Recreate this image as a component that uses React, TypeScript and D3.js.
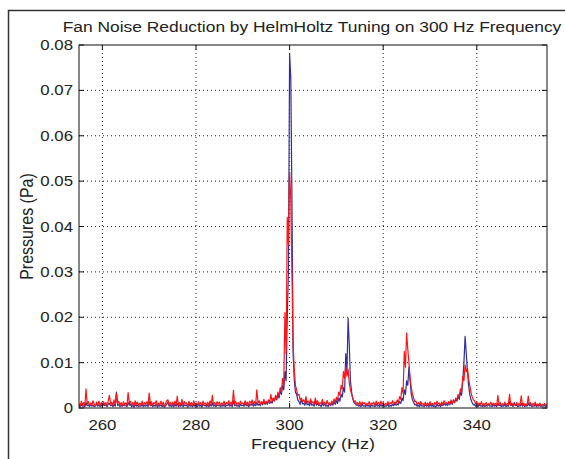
import React from "react";
import * as d3 from "d3";

// Frequency grid: 255 Hz to 355 Hz in 0.25 Hz bins (401 bins)
const freqStart = 255;
const freqStep = 0.25;

// Pressure spectrum with Helmholtz tuning (red), in mPa
const tunedPressure_mPa = [
  1.0, 0.4, 1.5, 0.7, 1.2, 0.5, 4.2, 0.9, 1.4, 0.5, 1.1, 0.6, 1.6, 0.8, 0.4, 1.3, 0.7, 1.5, 0.5, 1.2,
  0.6, 1.4, 0.8, 1.2, 0.4, 1.6, 2.8, 0.9, 1.3, 0.5, 1.8, 0.7, 3.2, 1.0, 1.5, 0.6, 1.2, 0.4, 1.4, 0.8,
  1.1, 0.5, 3.4, 0.9, 1.5, 0.6, 1.2, 0.4, 1.6, 0.8, 1.3, 0.5, 1.1, 0.7, 1.5, 0.4, 1.2, 0.8, 1.4, 0.6,
  3.3, 0.7, 1.4, 0.5, 1.2, 0.9, 1.6, 0.4, 1.1, 0.7, 1.5, 0.6, 1.3, 0.4, 1.0, 1.6, 1.8, 0.7, 1.2, 0.5,
  1.3, 0.6, 1.5, 0.8, 2.6, 0.5, 1.2, 0.7, 1.9, 0.5, 1.4, 0.9, 1.1, 0.4, 1.5, 0.7, 1.2, 0.5, 1.6, 0.8,
  1.0, 0.5, 1.4, 0.7, 1.2, 0.4, 1.5, 0.9, 1.1, 0.6, 1.3, 0.5, 1.6, 0.8, 2.8, 0.7, 1.2, 0.5, 1.4, 0.9,
  1.3, 0.6, 1.1, 0.8, 1.5, 0.5, 1.2, 0.9, 1.6, 0.7, 1.3, 0.6, 3.9, 1.0, 1.4, 0.7, 1.2, 0.6, 1.5, 0.9,
  1.1, 0.7, 1.6, 0.8, 1.3, 0.6, 1.5, 1.0, 1.8, 0.7, 1.4, 0.9, 4.0, 1.1, 1.6, 0.8, 1.4, 1.0, 1.9, 0.9,
  1.5, 0.9, 1.8, 1.2, 3.0, 1.5, 2.2, 1.6, 2.8, 2.0, 3.5, 2.6, 4.5, 3.5, 6.5, 5.0, 21.0, 12.0, 42.0, 36.0,
  52.0, 46.0, 30.0, 14.0, 8.5, 5.0, 4.0, 2.8, 3.0, 1.8, 2.2, 1.4, 1.8, 1.1, 2.5, 1.2, 1.5, 0.9, 2.0, 1.1,
  1.4, 0.8, 2.2, 1.0, 1.6, 0.7, 1.2, 0.9, 1.9, 0.8, 1.3, 0.6, 1.7, 0.9, 1.1, 0.7, 1.5, 1.0, 2.0, 1.2,
  2.4, 1.6, 3.5, 2.8, 5.0, 4.2, 8.0, 6.5, 9.2, 7.0, 8.5, 5.5, 4.0, 3.0, 2.2, 1.4, 1.6, 0.9, 1.2, 0.7,
  1.4, 0.6, 1.3, 0.9, 1.2, 0.5, 1.0, 0.8, 1.4, 0.6, 1.1, 0.9, 1.3, 0.5, 1.5, 0.8, 1.2, 0.6, 1.5, 0.9,
  1.2, 0.6, 1.0, 0.8, 1.4, 0.7, 1.2, 0.9, 1.6, 0.8, 1.3, 1.0, 1.8, 1.2, 2.5, 1.9, 4.5, 3.2, 12.5, 9.0,
  16.5, 13.0, 10.0, 6.5, 4.5, 3.0, 2.2, 1.4, 1.5, 0.8, 1.2, 0.6, 1.4, 0.8, 1.0, 0.5, 1.3, 0.7, 1.1, 0.6,
  1.4, 0.7, 1.0, 0.5, 1.2, 0.8, 1.5, 0.9, 1.1, 0.6, 1.3, 0.8, 1.6, 1.0, 1.2, 0.7, 1.4, 0.9, 1.8, 1.1,
  1.6, 1.2, 2.2, 1.7, 3.0, 2.4, 4.2, 3.5, 7.0, 6.0, 9.5, 8.0, 8.8, 6.5, 5.0, 3.5, 2.5, 1.8, 1.6, 0.9,
  1.3, 0.6, 1.1, 0.8, 1.4, 0.5, 1.0, 0.7, 1.2, 0.5, 0.9, 0.7, 1.3, 0.6, 1.1, 0.8, 1.0, 0.5, 2.8, 0.7,
  1.2, 0.5, 0.9, 0.7, 1.3, 0.6, 1.0, 0.8, 3.0, 0.7, 1.1, 0.5, 0.8, 0.6, 1.2, 0.5, 1.0, 0.7, 2.7, 0.6,
  1.1, 0.5, 0.9, 0.6, 2.6, 0.8, 1.2, 0.5, 1.0, 0.7, 1.3, 0.5, 0.9, 0.6, 1.1, 0.4, 0.8, 0.6, 1.0, 0.5,
  0.9,
];

// Pressure spectrum without tuning (blue), in mPa
const untunedPressure_mPa = [
  0.6, 0.3, 0.8, 0.4, 0.5, 0.2, 1.2, 0.5, 0.7, 0.3, 0.9, 0.4, 0.6, 0.3, 0.5, 0.8, 0.4, 0.7, 0.3, 0.6,
  0.4, 0.8, 0.5, 0.7, 0.3, 0.9, 1.0, 0.5, 0.7, 0.3, 0.8, 0.4, 3.5, 0.6, 0.8, 0.3, 0.6, 0.4, 0.7, 0.5,
  0.5, 0.3, 1.2, 0.6, 0.8, 0.3, 0.6, 0.2, 0.7, 0.4, 0.6, 0.3, 0.5, 0.4, 0.8, 0.3, 0.6, 0.4, 0.7, 0.3,
  1.4, 0.5, 0.7, 0.3, 0.6, 0.4, 0.8, 0.2, 0.6, 0.4, 0.7, 0.3, 0.6, 0.2, 0.5, 0.8, 1.2, 0.4, 0.6, 0.3,
  0.7, 0.3, 0.8, 0.4, 1.0, 0.3, 0.6, 0.4, 0.8, 0.3, 0.7, 0.5, 0.6, 0.2, 0.8, 0.4, 0.6, 0.3, 0.8, 0.4,
  0.5, 0.3, 0.7, 0.4, 0.6, 0.2, 0.8, 0.5, 0.6, 0.3, 0.7, 0.3, 0.8, 0.4, 1.1, 0.4, 0.6, 0.3, 0.7, 0.5,
  0.7, 0.3, 0.6, 0.4, 0.8, 0.3, 0.6, 0.5, 0.9, 0.4, 0.7, 0.3, 1.6, 0.5, 0.7, 0.4, 0.6, 0.3, 0.8, 0.5,
  0.6, 0.4, 0.9, 0.5, 0.7, 0.3, 0.8, 0.6, 1.0, 0.4, 0.8, 0.5, 1.2, 0.6, 0.9, 0.5, 1.3, 0.7, 1.5, 0.8,
  1.2, 0.8, 1.6, 1.0, 1.4, 1.1, 2.0, 1.5, 2.4, 1.8, 3.0, 2.2, 3.8, 3.0, 5.0, 4.0, 8.0, 6.0, 20.0, 30.0,
  78.0, 73.0, 46.0, 12.0, 6.0, 3.5, 3.0, 1.8, 1.4, 0.8, 2.0, 0.9, 1.0, 0.6, 1.6, 0.7, 0.9, 0.5, 1.3, 0.6,
  0.8, 0.4, 1.5, 0.6, 1.0, 0.5, 0.7, 0.3, 1.2, 0.5, 0.9, 0.4, 0.6, 0.3, 1.1, 0.5, 1.0, 0.6, 1.4, 0.8,
  1.6, 1.0, 2.2, 1.5, 3.0, 2.4, 4.5, 3.5, 12.0, 8.0, 19.8, 14.0, 6.0, 3.5, 2.0, 1.2, 1.0, 0.6, 0.7, 0.4,
  0.6, 0.3, 0.9, 0.4, 0.5, 0.3, 0.8, 0.4, 0.6, 0.2, 0.7, 0.4, 0.5, 0.3, 0.9, 0.4, 0.6, 0.3, 0.8, 0.4,
  0.7, 0.3, 0.5, 0.4, 0.9, 0.3, 0.6, 0.4, 0.8, 0.5, 1.0, 0.6, 0.9, 0.7, 1.4, 1.0, 2.2, 1.6, 4.0, 3.0,
  6.0, 5.0, 9.0, 6.0, 3.0, 1.8, 1.2, 0.7, 0.8, 0.4, 0.6, 0.3, 0.9, 0.4, 0.5, 0.3, 0.7, 0.4, 0.6, 0.3,
  0.8, 0.4, 0.6, 0.3, 0.5, 0.2, 0.9, 0.4, 0.7, 0.3, 0.8, 0.5, 1.0, 0.6, 0.9, 0.5, 1.2, 0.7, 1.4, 0.8,
  1.8, 1.2, 2.0, 1.5, 2.6, 1.9, 3.5, 2.8, 6.0, 10.0, 15.8, 12.0, 8.0, 5.0, 3.0, 1.8, 1.2, 0.7, 0.8, 0.4,
  0.6, 0.3, 0.8, 0.4, 0.5, 0.3, 0.7, 0.3, 0.6, 0.4, 0.9, 0.4, 0.5, 0.3, 0.8, 0.4, 0.6, 0.3, 1.0, 0.5,
  0.7, 0.3, 0.5, 0.4, 0.8, 0.3, 0.6, 0.4, 1.4, 0.5, 0.8, 0.3, 1.2, 0.5, 0.7, 0.3, 0.5, 0.4, 1.0, 0.4,
  0.8, 0.3, 0.6, 0.4, 1.1, 0.5, 0.7, 0.3, 0.5, 0.4, 0.8, 0.3, 0.6, 0.4, 0.7, 0.3, 0.5, 0.4, 0.6, 0.3,
  0.5,
];

const xTicks = [260, 280, 300, 320, 340];
const yTicks = [0, 0.01, 0.02, 0.03, 0.04, 0.05, 0.06, 0.07, 0.08];
const yTickLabels = ["0", "0.01", "0.02", "0.03", "0.04", "0.05", "0.06", "0.07", "0.08"];

const titleText = "Fan Noise Reduction by HelmHoltz Tuning on 300 Hz Frequency";
const xLabel = "Frequency (Hz)";
const yLabel = "Pressures (Pa)";

const W = 565;
const H = 459;
const plot = { left: 79, right: 547, top: 45, bottom: 408 };
const FONT = "'Liberation Sans', Arial, Helvetica, sans-serif";
const SX = 1.2;

export default function App() {
  const x = d3.scaleLinear().domain([255, 355]).range([plot.left, plot.right]);
  const y = d3.scaleLinear().domain([0, 0.08]).range([plot.bottom, plot.top]);
  const toPa = (v: number) => v / 1000;

  const line = d3
    .line<number>()
    .x((_, i) => x(freqStart + freqStep * i))
    .y((d) => y(toPa(d)));

  const tick = 5;

  return (
    <svg
      width={W}
      height={H}
      style={{ position: "absolute", left: 0, top: 0, background: "#fff" }}
      fontFamily={FONT}
    >
      <rect x={0} y={0} width={W} height={H} fill="#fff" />
      <path d={`M8.5,${H} V10.5 H${W}`} fill="none" stroke="#333" strokeWidth={1.5} />

      <defs>
        <clipPath id="plotClip">
          <rect x={plot.left} y={plot.top} width={plot.right - plot.left} height={plot.bottom - plot.top} />
        </clipPath>
      </defs>

      {/* grid */}
      {xTicks.map((t) => (
        <line key={"gx" + t} x1={x(t)} x2={x(t)} y1={plot.top} y2={plot.bottom}
          stroke="#222" strokeWidth={1} strokeDasharray="1,3" />
      ))}
      {yTicks.slice(1, -1).map((t) => (
        <line key={"gy" + t} x1={plot.left} x2={plot.right} y1={y(t)} y2={y(t)}
          stroke="#222" strokeWidth={1} strokeDasharray="1,3" />
      ))}

      {/* data */}
      <g clipPath="url(#plotClip)" fill="none" strokeLinejoin="round">
        <path d={line(untunedPressure_mPa) || ""} stroke="#2e2e9c" strokeWidth={1.2} />
        <path d={line(tunedPressure_mPa) || ""} stroke="#ff1414" strokeWidth={1.2} />
      </g>

      {/* box */}
      <rect x={plot.left} y={plot.top} width={plot.right - plot.left} height={plot.bottom - plot.top}
        fill="none" stroke="#111" strokeWidth={1} />

      {/* ticks */}
      {xTicks.map((t) => (
        <g key={"tx" + t}>
          <line x1={x(t)} x2={x(t)} y1={plot.bottom} y2={plot.bottom - tick} stroke="#111" />
          <line x1={x(t)} x2={x(t)} y1={plot.top} y2={plot.top + tick} stroke="#111" />
          <text transform={`translate(${x(t)},430) scale(${SX},1)`} textAnchor="middle" fontSize={14} fill="#222">
            {t}
          </text>
        </g>
      ))}
      {yTicks.map((t, i) => (
        <g key={"ty" + t}>
          <line x1={plot.left} x2={plot.left + tick} y1={y(t)} y2={y(t)} stroke="#111" />
          <line x1={plot.right} x2={plot.right - tick} y1={y(t)} y2={y(t)} stroke="#111" />
          <text transform={`translate(73,${y(t) + 5}) scale(${SX},1)`} textAnchor="end" fontSize={14} fill="#222">
            {yTickLabels[i]}
          </text>
        </g>
      ))}

      <text transform={`translate(${(plot.left + plot.right) / 2 - 1},32) scale(${SX},1)`} textAnchor="middle" fontSize={14.5} fill="#222">
        {titleText}
      </text>
      <text transform={`translate(${(plot.left + plot.right) / 2},449) scale(${SX},1)`} textAnchor="middle" fontSize={15} fill="#222">
        {xLabel}
      </text>
      <text transform={`translate(33,${(plot.top + plot.bottom) / 2}) scale(${SX},1) rotate(-90)`} textAnchor="middle" fontSize={16} fill="#222">
        {yLabel}
      </text>
    </svg>
  );
}
